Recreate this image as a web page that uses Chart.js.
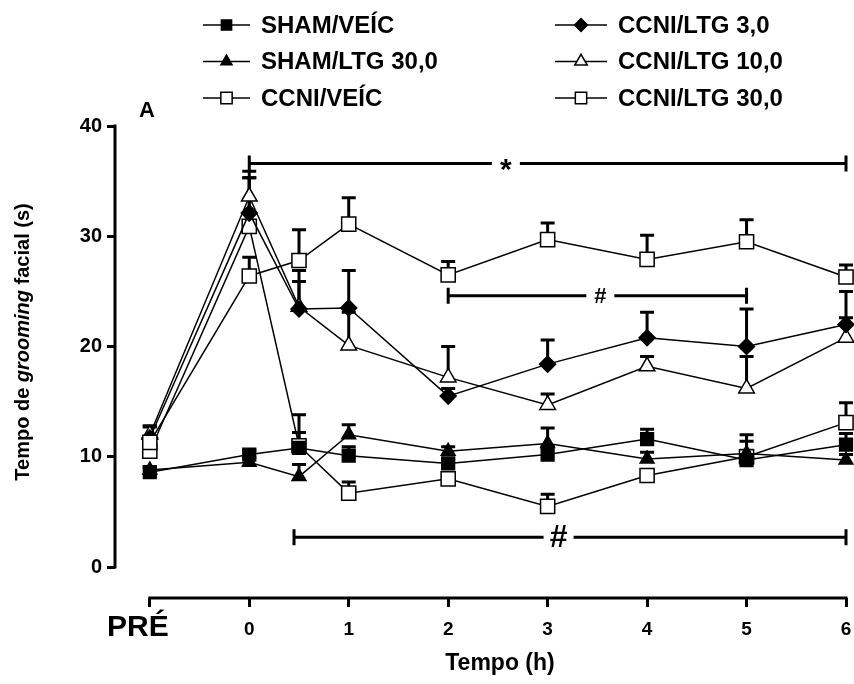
<!DOCTYPE html>
<html>
<head>
<meta charset="utf-8">
<script src="https://cdn.jsdelivr.net/npm/chart.js@4.4.0/dist/chart.umd.min.js"></script>
<style>
  html, body { margin: 0; padding: 0; background: #fff; }
</style>
</head>
<body>
<canvas id="grooming" width="854" height="684"></canvas>
<script>
// --- dados ---
const tempos = [-1, 0, 0.5, 1, 2, 3, 4, 5, 6];   // -1 = PRÉ
const xTicks = [-1, 0, 1, 2, 3, 4, 5, 6];
const xTickLabels = ['PRÉ', '0', '1', '2', '3', '4', '5', '6'];
const yTicks = [0, 10, 20, 30, 40];

const shamVeic = [8.6, 10.2, 10.8, 10.1, 9.4, 10.2, 11.6, 9.7, 11.1];
const shamVeicEpm = [0.4, 0.4, 1.4, 0.8, 0.4, 0.8, 0.9, 1.7, 1.0];
const shamLtg30 = [8.8, 9.5, 8.2, 12.0, 10.5, 11.2, 9.8, 10.3, 9.7];
const shamLtg30Epm = [0.3, 0.4, 1.1, 0.9, 0.4, 1.4, 0.6, 1.7, 0.5];
const ccniVeic = [11.3, 26.4, 27.8, 31.1, 26.5, 29.7, 27.9, 29.5, 26.3];
const ccniVeicEpm = [1.5, 1.7, 2.8, 2.4, 1.2, 1.5, 2.2, 2.0, 1.1];
const ccniLtg3 = [11.7, 32.1, 23.4, 23.5, 15.5, 18.4, 20.8, 20.0, 22.0];
const ccniLtg3Epm = [1.0, 3.8, 2.5, 3.4, 0.7, 2.2, 2.3, 3.4, 3.0];
const ccniLtg10 = [12.0, 33.6, 23.6, 20.1, 17.2, 14.7, 18.2, 16.2, 20.8];
const ccniLtg10Epm = [0.8, 1.7, 3.3, 3.0, 2.8, 1.0, 0.9, 2.9, 1.8];
const ccniLtg30 = [10.5, 30.9, 11.0, 6.7, 8.0, 5.5, 8.3, 10.0, 13.1];
const ccniLtg30Epm = [0.7, 4.4, 2.8, 1.0, 0.3, 1.1, 0.3, 0.6, 1.8];

// colchetes de significância
const colcheteInicio = [0, 2, 0.45];
const colcheteFim = [6, 5, 6];
const colcheteNivel = [36.6, 24.6, 2.7];
const colcheteSimbolo = ['*', '#', '#'];
const colcheteSimboloX = [2.58, 3.53, 3.11];

const FONT = "'Liberation Sans', Arial, sans-serif";

function serie(label, values, epm, style, radius, filled) {
    return {
        label: label,
        data: tempos.map((t, i) => ({ x: t, y: values[i] })),
        epm: epm,
        borderColor: '#000',
        borderWidth: 1.5,
        pointStyle: style,
        pointRadius: radius,
        pointBorderWidth: 1.5,
        pointBorderColor: '#000',
        pointBackgroundColor: filled ? '#000' : '#fff',
        tension: 0,
        clip: false
    };
}

// --- barras de erro (só para cima) ---
const errorBars = {
    id: 'errorBars',
    beforeDatasetsDraw(chart) {
        const ctx = chart.ctx;
        const xs = chart.scales.x, ys = chart.scales.y;
        ctx.save();
        ctx.strokeStyle = '#000';
        ctx.lineWidth = 3;
        chart.data.datasets.forEach(ds => {
            ds.data.forEach((p, i) => {
                const px = xs.getPixelForValue(p.x);
                const y0 = ys.getPixelForValue(p.y);
                const y1 = ys.getPixelForValue(p.y + ds.epm[i]);
                ctx.beginPath();
                ctx.moveTo(px, y0);
                ctx.lineTo(px, y1);
                ctx.moveTo(px - 7, y1);
                ctx.lineTo(px + 7, y1);
                ctx.stroke();
            });
        });
        ctx.restore();
    }
};

// --- eixos, colchetes, legenda e títulos ---
const extras = {
    id: 'extras',
    afterDraw(chart) {
        const ctx = chart.ctx;
        const xs = chart.scales.x, ys = chart.scales.y;
        ctx.save();
        ctx.strokeStyle = '#000';
        ctx.fillStyle = '#000';
        ctx.lineWidth = 3;

        // eixo y (0 a 40) e eixo x (PRÉ a 6)
        const axX = chart.chartArea.left;
        ctx.beginPath();
        ctx.moveTo(axX, ys.getPixelForValue(0) + 1.5);
        ctx.lineTo(axX, ys.getPixelForValue(40) - 1.5);
        ctx.stroke();
        const axY = chart.chartArea.bottom;
        ctx.beginPath();
        ctx.moveTo(xs.getPixelForValue(-1) - 1.5, axY);
        ctx.lineTo(xs.getPixelForValue(6) + 1.5, axY);
        ctx.stroke();

        // rótulo PRÉ
        ctx.font = 'bold 30px ' + FONT;
        ctx.textAlign = 'center';
        ctx.textBaseline = 'middle';
        ctx.fillText(xTickLabels[0], xs.getPixelForValue(-1) - 12, axY + 30);

        // colchetes
        colcheteInicio.forEach((ini, i) => {
            const x0 = xs.getPixelForValue(ini);
            const x1 = xs.getPixelForValue(colcheteFim[i]);
            const y = ys.getPixelForValue(colcheteNivel[i]);
            const xm = xs.getPixelForValue(colcheteSimboloX[i]);
            const size = i === 0 ? 30 : (i === 1 ? 22 : 32);
            const gap = i === 0 ? 14 : (i === 1 ? 14 : 15);
            ctx.beginPath();
            ctx.moveTo(x0, y); ctx.lineTo(xm - gap, y);
            ctx.moveTo(xm + gap, y); ctx.lineTo(x1, y);
            ctx.moveTo(x0, y - 8); ctx.lineTo(x0, y + 8);
            ctx.moveTo(x1, y - 8); ctx.lineTo(x1, y + 8);
            ctx.stroke();
            ctx.font = 'bold ' + size + 'px ' + FONT;
            ctx.fillText(colcheteSimbolo[i], xm, y + (i === 0 ? 7 : 1));
        });

        // legenda em duas colunas
        ctx.font = 'bold 24px ' + FONT;
        ctx.textAlign = 'left';
        chart.data.datasets.forEach((ds, i) => {
            const col = i < 3 ? 0 : 1;
            const row = i % 3;
            const y = 25 + row * 36.5;
            const x0 = col === 0 ? 203 : 555;
            const x1 = col === 0 ? 250 : 607;
            ctx.lineWidth = 1.5;
            ctx.beginPath();
            ctx.moveTo(x0, y); ctx.lineTo(x1, y);
            ctx.stroke();
            ctx.fillStyle = ds.pointBackgroundColor;
            Chart.helpers.drawPoint(ctx, {
                pointStyle: ds.pointStyle, rotation: 0,
                radius: ds.pointRadius * 0.8, borderWidth: 1.5
            }, (x0 + x1) / 2, y);
            ctx.fillStyle = '#000';
            ctx.fillText(ds.label, x1 + 11, y + 1);
        });

        // letra do painel
        ctx.font = 'bold 22px ' + FONT;
        ctx.textAlign = 'center';
        ctx.fillText('A', 147, 111);

        // título do eixo x
        ctx.font = 'bold 23px ' + FONT;
        ctx.fillText('Tempo (h)', 500, 664);

        // título do eixo y com "grooming" em itálico
        const partes = [
            ['Tempo de ', 'bold 20px ' + FONT],
            ['grooming', 'italic bold 20px ' + FONT],
            [' facial (s)', 'bold 20px ' + FONT]
        ];
        let total = 0;
        partes.forEach(p => { ctx.font = p[1]; total += ctx.measureText(p[0]).width; });
        ctx.translate(23, 342);
        ctx.rotate(-Math.PI / 2);
        ctx.textAlign = 'left';
        let cx = -total / 2;
        partes.forEach(p => {
            ctx.font = p[1];
            ctx.fillText(p[0], cx, 0);
            cx += ctx.measureText(p[0]).width;
        });
        ctx.restore();
    }
};

const ctx = document.getElementById('grooming').getContext('2d');
new Chart(ctx, {
    type: 'line',
    data: {
        datasets: [
            serie('SHAM/VEÍC', shamVeic, shamVeicEpm, 'rect', 9, true),
            serie('SHAM/LTG 30,0', shamLtg30, shamLtg30Epm, 'triangle', 8, true),
            serie('CCNI/VEÍC', ccniVeic, ccniVeicEpm, 'rect', 10, false),
            serie('CCNI/LTG 3,0', ccniLtg3, ccniLtg3Epm, 'rectRot', 8, true),
            serie('CCNI/LTG 10,0', ccniLtg10, ccniLtg10Epm, 'triangle', 9, false),
            serie('CCNI/LTG 30,0', ccniLtg30, ccniLtg30Epm, 'rect', 10, false)
        ]
    },
    options: {
        responsive: false,
        animation: false,
        layout: { autoPadding: false, padding: { top: 126, right: 8, left: 0, bottom: 0 } },
        plugins: { legend: { display: false }, tooltip: { enabled: false } },
        scales: {
            x: {
                type: 'linear',
                min: -1.35,
                max: 6,
                afterBuildTicks: s => { s.ticks = xTicks.map(v => ({ value: v })); },
                afterFit: s => { s.height = 86; s.paddingLeft = 0; s.paddingRight = 0; },
                border: { display: false },
                grid: { drawOnChartArea: false, drawTicks: true, tickLength: 9, color: '#000', lineWidth: 3 },
                ticks: {
                    callback: v => (v === -1 ? '' : xTickLabels[xTicks.indexOf(v)]),
                    font: { family: FONT, size: 19, weight: 'bold' },
                    color: '#000',
                    padding: 11,
                    maxRotation: 0,
                    autoSkip: false
                }
            },
            y: {
                min: -2.81,
                max: 40,
                afterBuildTicks: s => { s.ticks = yTicks.map(v => ({ value: v })); },
                afterFit: s => { s.width = 115; s.paddingTop = 0; s.paddingBottom = 0; },
                border: { display: false },
                grid: { drawOnChartArea: false, drawTicks: true, tickLength: 8, color: '#000', lineWidth: 3 },
                ticks: {
                    font: { family: FONT, size: 20, weight: 'bold' },
                    color: '#000',
                    padding: 5
                }
            }
        }
    },
    plugins: [errorBars, extras]
});
</script>
</body>
</html>
